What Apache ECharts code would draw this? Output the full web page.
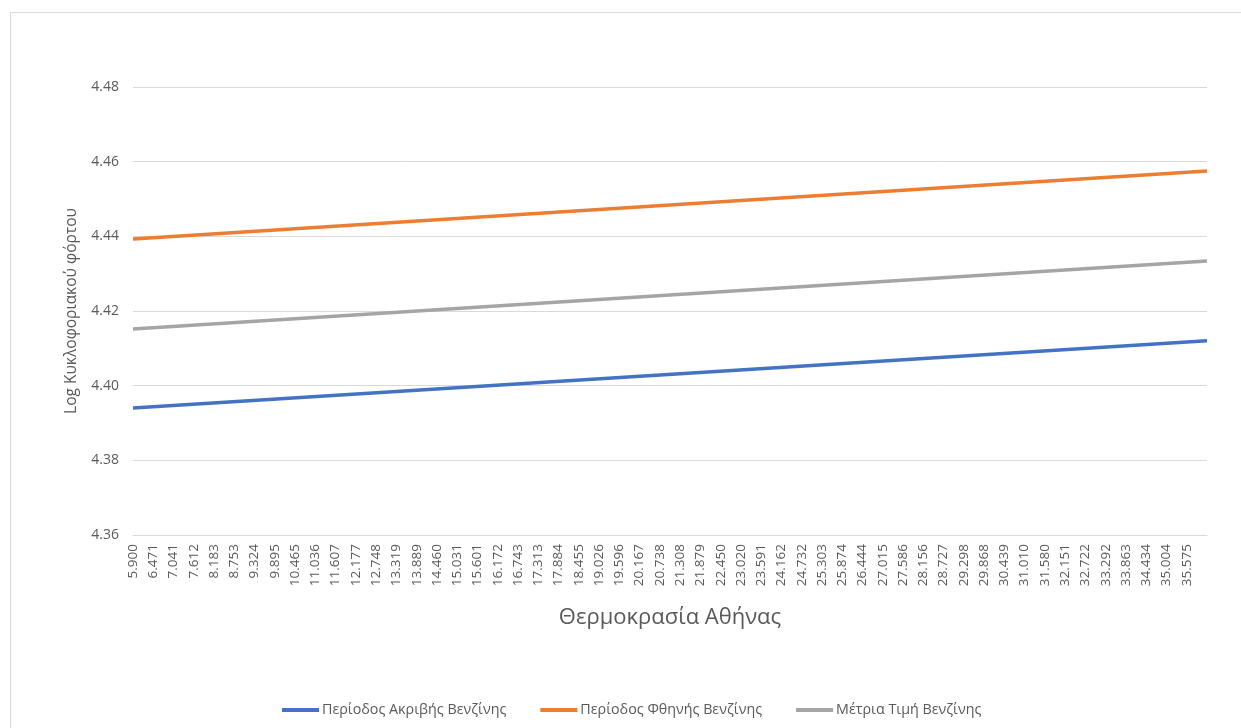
<!DOCTYPE html>
<html>
<head>
<meta charset="utf-8">
<title>Log Κυκλοφοριακού φόρτου - Θερμοκρασία Αθήνας</title>
<script src="https://cdn.jsdelivr.net/npm/echarts@6/dist/echarts.min.js"></script>
<style>
  html, body { margin: 0; padding: 0; background: #ffffff; }
  #chart { width: 1241px; height: 728px; }
</style>
</head>
<body>
<div id="chart"></div>
<script>
// Temperature labels printed on the x axis (every second category)
const tempLabels = [
  '5.900', '6.471', '7.041', '7.612', '8.183', '8.753', '9.324', '9.895',
  '10.465', '11.036', '11.607', '12.177', '12.748', '13.319', '13.889', '14.460',
  '15.031', '15.601', '16.172', '16.743', '17.313', '17.884', '18.455', '19.026',
  '19.596', '20.167', '20.738', '21.308', '21.879', '22.450', '23.020', '23.591',
  '24.162', '24.732', '25.303', '25.874', '26.444', '27.015', '27.586', '28.156',
  '28.727', '29.298', '29.868', '30.439', '31.010', '31.580', '32.151', '32.722',
  '33.292', '33.863', '34.434', '35.004', '35.575'
];
// Unlabelled categories that sit between / after the printed ones
const hiddenTemps = [
  '6.185', '6.756', '7.327', '7.897', '8.468', '9.039', '9.609', '10.180',
  '10.751', '11.321', '11.892', '12.463', '13.033', '13.604', '14.175', '14.745',
  '15.316', '15.887', '16.457', '17.028', '17.599', '18.169', '18.740', '19.311',
  '19.881', '20.452', '21.023', '21.594', '22.164', '22.735', '23.306', '23.876',
  '24.447', '25.018', '25.588', '26.159', '26.730', '27.300', '27.871', '28.442',
  '29.012', '29.583', '30.154', '30.724', '31.295', '31.866', '32.436', '33.007',
  '33.578', '34.148', '34.719', '35.290'
];
const trailingTemps = ['35.861', '36.146'];

// Fitted log traffic at the coldest and hottest temperature of each period
const seriesNames = ['Περίοδος Ακριβής Βενζίνης', 'Περίοδος Φθηνής Βενζίνης', 'Μέτρια Τιμή Βενζίνης'];
const startValues = [4.3940, 4.4393, 4.4152];
const endValues   = [4.4120, 4.4575, 4.4334];
const seriesColors = ['#4472C4', '#ED7D31', '#A5A5A5'];

const yTicks = { min: 4.36, max: 4.48, step: 0.02 };

// Build the full category list
const categories = [];
tempLabels.forEach((t, i) => {
  categories.push(t);
  if (i < hiddenTemps.length) categories.push(hiddenTemps[i]);
});
trailingTemps.forEach(t => categories.push(t));
const labelledSet = new Set(tempLabels);

// Each fitted line is straight: keep its two end values and let the line join them
function lineData(a, b) {
  const arr = new Array(categories.length).fill(null);
  arr[0] = a;
  arr[categories.length - 1] = b;
  return arr;
}

const font = '"Open Sans", "Liberation Sans", sans-serif';
const textGrey = '#595959';
const gridGrey = '#d9d9d9';

const chart = echarts.init(document.getElementById('chart'), null, { renderer: 'canvas' });
chart.setOption({
  backgroundColor: '#ffffff',
  animation: false,
  textStyle: { fontFamily: font },
  graphic: [{
    type: 'rect',
    shape: { x: 10.5, y: 12.5, width: 1400, height: 900 },
    style: { fill: 'none', stroke: gridGrey, lineWidth: 1 },
    silent: true,
    z: -1
  }],
  grid: { left: 133, right: 34, top: 87, bottom: 193, containLabel: false },
  legend: {
    data: seriesNames,
    top: 698,
    left: 277,
    icon: 'rect',
    itemWidth: 37,
    itemHeight: 4,
    itemGap: 34,
    textStyle: { fontFamily: font, fontSize: 14.3, color: textGrey, padding: [0, 0, 0, -2] }
  },
  xAxis: {
    type: 'category',
    data: categories,
    boundaryGap: false,
    name: 'Θερμοκρασία Αθήνας',
    nameLocation: 'middle',
    nameGap: 72,
    nameTextStyle: { fontFamily: font, fontSize: 22, color: textGrey },
    axisLine: { show: true, lineStyle: { color: gridGrey, width: 1 } },
    axisTick: { show: false },
    axisLabel: {
      interval: (idx, value) => labelledSet.has(value),
      rotate: 90,
      margin: 9,
      fontFamily: font,
      fontSize: 13.5,
      color: textGrey
    },
    splitLine: { show: false }
  },
  yAxis: {
    type: 'value',
    min: yTicks.min,
    max: yTicks.max,
    interval: yTicks.step,
    name: 'Log Κυκλοφοριακού φόρτου',
    nameLocation: 'middle',
    nameGap: 53,
    nameTextStyle: { fontFamily: font, fontSize: 15.5, color: textGrey },
    axisLine: { show: false },
    axisTick: { show: false },
    axisLabel: {
      margin: 14,
      fontFamily: font,
      fontSize: 14,
      color: textGrey,
      formatter: v => v.toFixed(2)
    },
    splitLine: { lineStyle: { color: gridGrey, width: 1 } }
  },
  series: seriesNames.map((name, i) => ({
    name: name,
    type: 'line',
    data: lineData(startValues[i], endValues[i]),
    connectNulls: true,
    showSymbol: false,
    symbol: 'none',
    color: seriesColors[i],
    lineStyle: { color: seriesColors[i], width: 3.5, cap: 'butt' }
  }))
});
</script>
</body>
</html>
